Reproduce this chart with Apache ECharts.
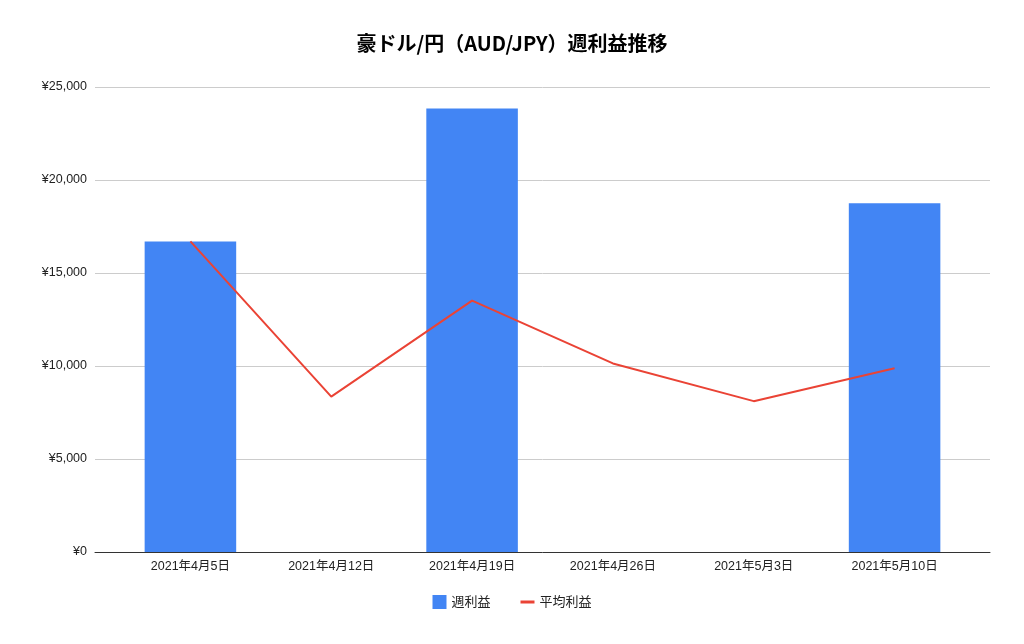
<!DOCTYPE html>
<html><head><meta charset="utf-8">
<script src="https://cdn.jsdelivr.net/npm/echarts@6/dist/echarts.min.js"></script>
<style>html,body{margin:0;padding:0;background:#fff}#c{width:1024px;height:644px}</style>
</head><body><div id="c"></div>
<script>
const categories = ['2021年4月5日','2021年4月12日','2021年4月19日','2021年4月26日','2021年5月3日','2021年5月10日'];
const weekly = [16700, 0, 23850, 0, 0, 18750];
const average = [16700, 8350, 13517, 10138, 8110, 9883];
const yTicks = [0, 5000, 10000, 15000, 20000, 25000];
const chart = echarts.init(document.getElementById('c'));
const font = '"Liberation Sans", "Noto Sans CJK JP", sans-serif';
chart.setOption({
  animation: false,
  textStyle: {fontFamily: font},
  title: {text: '豪ドル/円（AUD/JPY）週利益推移', left: 'center', top: 28,
    textStyle: {fontSize: 20, fontWeight: 'bold', color: '#000', fontFamily: '"Noto Sans CJK JP", sans-serif'}},
  legend: {bottom: 30, itemWidth: 14, itemHeight: 14, itemGap: 30,
    textStyle: {fontSize: 13, color: '#222', fontFamily: font},
    data: [{name: '週利益', icon: 'rect'}, {name: '平均利益', icon: 'path://M0,6h14v3h-14z'}]},
  grid: [{left: 95, right: 34, top: 87, bottom: 92}, {left: 120, right: 59, top: 87, bottom: 92}],
  xAxis: [
    {type: 'category', gridIndex: 0, data: [''], axisLine: {lineStyle: {color: '#333'}},
      axisTick: {show: false}, axisLabel: {show: false}},
    {type: 'category', gridIndex: 1, data: categories, axisLine: {show: false},
      axisTick: {show: false}, axisLabel: {color: '#222', fontSize: 12.5}}
  ],
  yAxis: [
    {type: 'value', gridIndex: 0, min: yTicks[0], max: yTicks[yTicks.length-1], interval: 5000,
      axisLabel: {color: '#222', fontSize: 12.5, formatter: v => '¥' + v.toLocaleString('en-US')},
      splitLine: {lineStyle: {color: '#ccc'}}},
    {type: 'value', gridIndex: 1, min: 0, max: 25000, interval: 5000,
      axisLabel: {show: false}, splitLine: {show: false}}
  ],
  series: [
    {name: '週利益', type: 'bar', xAxisIndex: 1, yAxisIndex: 1, data: weekly, barWidth: '65%', itemStyle: {color: '#4285f4'}},
    {name: '平均利益', type: 'line', xAxisIndex: 1, yAxisIndex: 1, data: average, symbol: 'none',
      lineStyle: {color: '#ea4335', width: 2}, itemStyle: {color: '#ea4335'}}
  ]
});
</script></body></html>
